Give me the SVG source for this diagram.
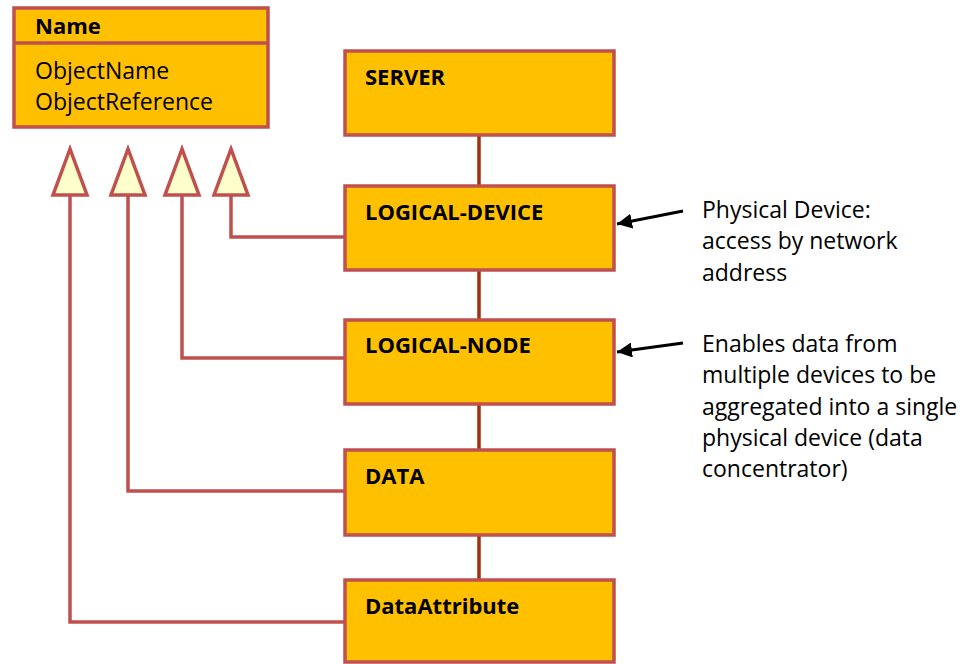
<svg xmlns="http://www.w3.org/2000/svg" width="976" height="664" viewBox="0 0 976 664">
<defs>
<style>
.box{fill:#FFC000;stroke:#C0504D;stroke-width:3.5}
.lbl{font-family:"Open Sans","Liberation Sans",sans-serif;font-weight:bold;font-size:22px;fill:#000}
.txt{font-family:"Open Sans","Liberation Sans",sans-serif;font-size:23px;fill:#000}
.gen{fill:none;stroke:#C0504D;stroke-width:3.5}
.tri{fill:#FFFFCC;stroke:#C0504D;stroke-width:3.5;stroke-linejoin:miter}
.assoc{stroke:#A0300E;stroke-width:3.5}
.note{stroke:#000;stroke-width:3;fill:none}
</style>
<marker id="ah" viewBox="0 0 10 10" refX="10" refY="5" markerWidth="5" markerHeight="5" orient="auto" markerUnits="strokeWidth">
<path d="M0,0 L10,5 L0,10 Z" fill="#000"/>
</marker>
</defs>
<rect width="976" height="664" fill="#fff"/>
<g id="connectors">
<line class="assoc" x1="479" y1="135" x2="479" y2="186"/>
<line class="assoc" x1="479" y1="270" x2="479" y2="320"/>
<line class="assoc" x1="479" y1="404" x2="479" y2="450"/>
<line class="assoc" x1="479" y1="535" x2="479" y2="580"/>
<polyline class="gen" points="231,195 231,237 345,237"/>
<polyline class="gen" points="182,195 182,358 345,358"/>
<polyline class="gen" points="128,195 128,491 345,491"/>
<polyline class="gen" points="70,195 70,622 345,622"/>
<polygon class="tri" points="70,149 53,195 87,195"/>
<polygon class="tri" points="128,149 111,195 145,195"/>
<polygon class="tri" points="182,149 165,195 199,195"/>
<polygon class="tri" points="231,149 214,195 248,195"/>
<line class="note" x1="683" y1="211" x2="617" y2="224" marker-end="url(#ah)"/>
<line class="note" x1="683" y1="343" x2="617" y2="352" marker-end="url(#ah)"/>
</g>
<g id="name">
<rect class="box" x="14" y="8" width="254" height="119"/>
<line x1="14" y1="43" x2="268" y2="43" stroke="#C0504D" stroke-width="3.5"/>
<text class="lbl" x="35" y="34">Name</text>
<text class="txt" x="35" y="79">ObjectName</text>
<text class="txt" x="35" y="110">ObjectReference</text>
</g>
<g id="server">
<rect class="box" x="345" y="51" width="269" height="84"/>
<text class="lbl" x="365" y="85">SERVER</text>
</g>
<g id="logical-device">
<rect class="box" x="345" y="186" width="269" height="84"/>
<text class="lbl" x="365" y="220">LOGICAL-DEVICE</text>
</g>
<g id="logical-node">
<rect class="box" x="345" y="320" width="269" height="84"/>
<text class="lbl" x="365" y="353">LOGICAL-NODE</text>
</g>
<g id="data">
<rect class="box" x="345" y="450" width="269" height="85"/>
<text class="lbl" x="365" y="484">DATA</text>
</g>
<g id="data-attribute">
<rect class="box" x="345" y="580" width="269" height="82"/>
<text class="lbl" x="365" y="614">DataAttribute</text>
</g>
<g id="note-physical">
<text class="txt" x="702" y="218">Physical Device:</text>
<text class="txt" x="702" y="249">access by network</text>
<text class="txt" x="702" y="281">address</text>
</g>
<g id="note-enables">
<text class="txt" x="702" y="352">Enables data from</text>
<text class="txt" x="702" y="383">multiple devices to be</text>
<text class="txt" x="702" y="415">aggregated into a single</text>
<text class="txt" x="702" y="446">physical device (data</text>
<text class="txt" x="702" y="477">concentrator)</text>
</g>
</svg>
